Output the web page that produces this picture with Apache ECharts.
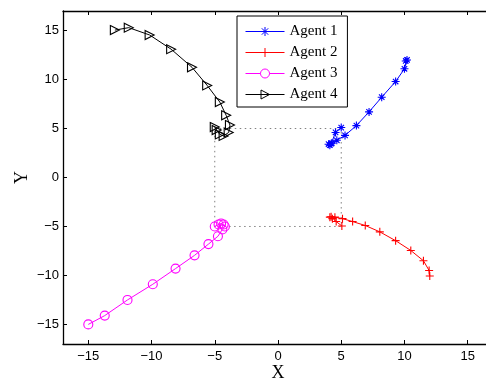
<!DOCTYPE html>
<html><head><meta charset="utf-8">
<script src="https://cdn.jsdelivr.net/npm/echarts@6/dist/echarts.min.js"></script>
<style>html,body{margin:0;padding:0;background:#fff}#c{width:486px;height:379px}</style>
</head><body><div id="c"></div>
<script>
var seriesNames = ['Agent 1','Agent 2','Agent 3','Agent 4'];
var seriesColors = ['#0000ff','#ff0000','#ff00ff','#000000'];
var agent1 = [[10.2,12.0],[10.1,11.9],[10.0,11.1],[9.3,9.8],[8.2,8.2],[7.2,6.7],[6.2,5.3],[5.3,4.3],[4.65,3.8],[4.25,3.5],[4.0,3.4],[4.1,3.3],[4.2,3.45],[4.55,4.6],[5.0,5.1]];
var agent2 = [[12.0,-10.05],[11.95,-9.5],[11.5,-8.5],[10.5,-7.45],[9.3,-6.45],[8.05,-5.55],[6.9,-4.9],[5.9,-4.5],[5.1,-4.2],[4.5,-4.05],[4.2,-4.0],[4.1,-4.05],[4.3,-4.2],[4.6,-4.5],[5.05,-4.95]];
var agent3 = [[-15,-15],[-13.7,-14.1],[-11.9,-12.5],[-9.9,-10.9],[-8.1,-9.3],[-6.6,-7.95],[-5.5,-6.8],[-4.75,-6.0],[-4.4,-5.3],[-4.2,-5.0],[-4.3,-4.8],[-4.5,-4.7],[-4.7,-4.8],[-5.0,-5.0]];
var agent4 = [[-12.9,15.05],[-11.8,15.3],[-10.15,14.55],[-8.45,13.1],[-6.8,11.25],[-5.6,9.4],[-4.6,7.7],[-4.1,6.35],[-3.8,5.35],[-3.9,4.6],[-4.3,4.25],[-4.6,4.4],[-4.85,4.85],[-5.0,5.15]];
var square = [[-5,5],[5,5],[5,-5],[-5,-5],[-5,5]];
var xTicks = [-15,-10,-5,0,5,10,15];
var yTicks = [-15,-10,-5,0,5,10,15];

var starPath = 'path://M0,5L10,5M5,0L5,10M1.6,1.6L8.4,8.4M8.4,1.6L1.6,8.4';
var plusPath = 'path://M0,5L10,5M5,0L5,10';
var triPath = 'path://M0,0L10,5L0,10Z';
var symbols = [starPath, plusPath, 'circle', triPath];
/* legend icons: line + marker inside a 39x9 box */
var legendIcons = [
  'path://M0,4.5L39,4.5M19.5,0L19.5,9M16.3,1.3L22.7,7.7M22.7,1.3L16.3,7.7',
  'path://M0,4.5L39,4.5M19.5,0L19.5,9',
  'path://M0,4.5L15,4.5M24,4.5L39,4.5M24,4.5A4.5,4.5,0,1,1,15,4.5A4.5,4.5,0,1,1,24,4.5',
  'path://M0,4.5L39,4.5M15.5,0L24,4.5L15.5,9Z'
];
var fmt = function(v){ return String(v).replace('-', '\u2212'); };

function agentSeries(i, data, size) {
  var color = seriesColors[i];
  return {
    name: seriesNames[i], type: 'line', data: data, symbol: symbols[i], symbolSize: size,
    lineStyle: {color: color, width: 1},
    itemStyle: {color: 'rgba(0,0,0,0)', borderColor: color, borderWidth: 1.1},
    emphasis: {disabled: true}, animation: false, z: 3
  };
}

var chart = echarts.init(document.getElementById('c'), null, {renderer: 'canvas'});
var axisCommon = {
  type: 'value', min: -17, max: 17,
  axisLine: {show: true, onZero: false, lineStyle: {color: '#000', width: 1.3}},
  axisTick: {show: true, inside: true, length: 4, customValues: xTicks, lineStyle: {color: '#000'}},
  splitLine: {show: false}
};
chart.setOption({
  animation: false,
  backgroundColor: '#fff',
  grid: {left: 63, top: 11, width: 430, height: 333, containLabel: false, outerBoundsMode: 'none'},
  xAxis: [
    Object.assign({}, axisCommon, {
      position: 'bottom', name: 'X', nameLocation: 'middle', nameGap: 20, nameMoveOverlap: false,
      nameTextStyle: {fontFamily: 'Liberation Serif', fontSize: 18, color: '#000'},
      axisLabel: {customValues: xTicks, formatter: fmt, margin: 6, fontFamily: 'Liberation Sans', fontSize: 13, color: '#000'}
    }),
    Object.assign({}, axisCommon, {position: 'top', axisLabel: {show: false}})
  ],
  yAxis: [
    Object.assign({}, axisCommon, {
      position: 'left', name: 'Y', nameLocation: 'middle', nameGap: 32, nameMoveOverlap: false,
      nameTextStyle: {fontFamily: 'Liberation Serif', fontSize: 18, color: '#000'},
      axisTick: {show: true, inside: true, length: 4, customValues: yTicks, lineStyle: {color: '#000'}},
      axisLabel: {customValues: yTicks, formatter: fmt, margin: 4, fontFamily: 'Liberation Sans', fontSize: 13, color: '#000'}
    }),
    Object.assign({}, axisCommon, {position: 'right', axisLabel: {show: false},
      axisTick: {show: true, inside: true, length: 4, customValues: yTicks}})
  ],
  legend: {
    data: seriesNames.map(function(n, i){
      return {name: n, icon: legendIcons[i],
        itemStyle: {color: 'rgba(0,0,0,0)', borderColor: seriesColors[i], borderWidth: 1}};
    }),
    orient: 'vertical', left: 237, top: 16,
    itemWidth: 39, itemHeight: 9, itemGap: 6,
    padding: [8, 10, 5, 8],
    borderColor: '#000', borderWidth: 1, backgroundColor: '#fff',
    textStyle: {fontFamily: 'Liberation Serif', fontSize: 15, color: '#000'}
  },
  series: [
    {name: 'square', type: 'line', data: square, symbol: 'none',
     lineStyle: {color: '#808080', width: 1, type: [1.5, 3.5]}, z: 1, emphasis: {disabled: true}},
    agentSeries(0, agent1, 8),
    agentSeries(1, agent2, 8),
    agentSeries(2, agent3, 9),
    agentSeries(3, agent4, 9)
  ]
});
</script></body></html>
